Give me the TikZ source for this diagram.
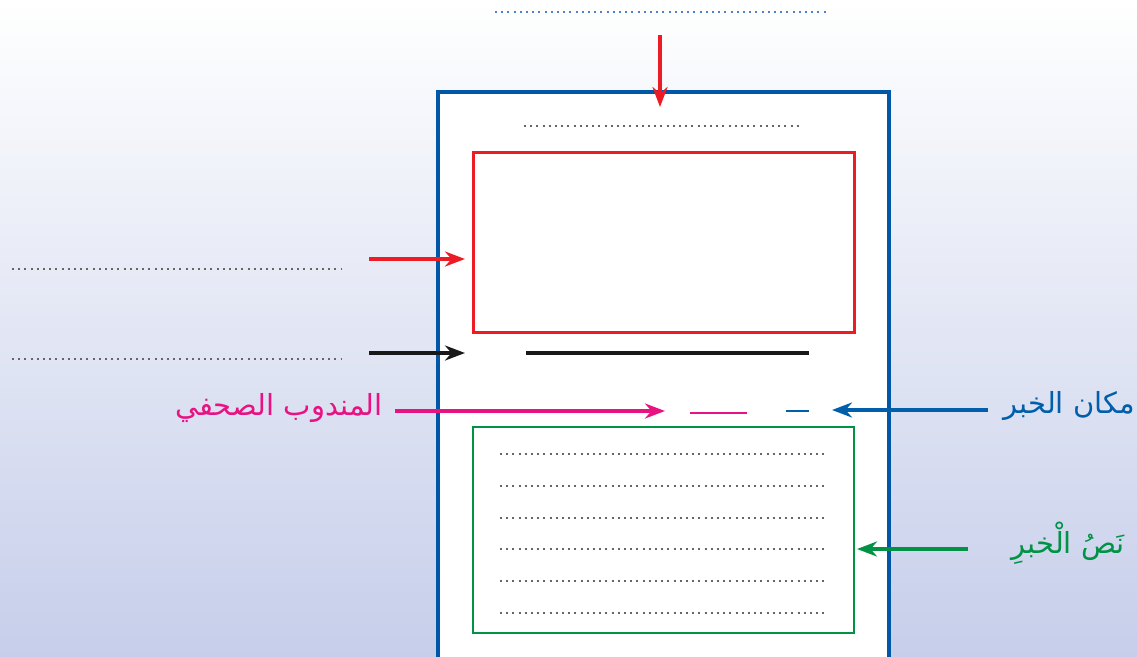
\documentclass[tikz,border=0pt]{standalone}
\usepackage{fontspec}
\newfontfamily\arabicfont[Script=Arabic]{DejaVu Sans}
\TeXXeTstate=1
\usetikzlibrary{calc, positioning}
\usetikzlibrary{arrows.meta}

\definecolor{pageblue}{RGB}{0,87,168}
\definecolor{dotblue}{RGB}{80,130,200}
\definecolor{mainred}{RGB}{237,28,36}
\definecolor{magentaC}{RGB}{232,18,130}
\definecolor{greenC}{RGB}{0,146,69}
\definecolor{placeblue}{RGB}{0,94,170}
\definecolor{bgmid}{RGB}{240,242,250}
\definecolor{bgbot}{RGB}{198,206,234}

\tikzset{
  dotline/.style={black!60, line width=2.2pt, dash pattern=on 2pt off 4.2pt},
  pointer/.style={line width=3.4pt, -{Stealth[length=20pt, width=15pt]}},
  tag/.style={font=\arabicfont\fontsize{29}{34}\selectfont, inner sep=0pt}
}

\begin{document}
\begin{tikzpicture}[x=1pt, y=-1pt]
\useasboundingbox (0,0) rectangle (1137,656);
\shade[top color=white, middle color=bgmid, bottom color=bgbot] (0,0) rectangle (1137,656);

% the page
\fill[white] (438,92) rectangle (889,660);
\draw[pageblue, line width=3.4pt] (438,660) -- (438,92) -- (889,92) -- (889,660);

% title line and picture
\draw[dotline, dotblue] (495,12) -- (827,12);
\draw[dotline] (524,126) -- (800,126);
\draw[mainred, line width=3pt] (473,152) rectangle (854,332);
\draw[black!90, line width=3.4pt] (526,353) -- (809,353);

% left answer lines
\draw[dotline] (12,269) -- (342,269);
\draw[dotline] (12,359) -- (342,359);

% reporter and place
\draw[magentaC, line width=2.4pt] (690,413) -- (747,413);
\draw[placeblue, line width=2.4pt] (786,411) -- (809,411);

% text box
\draw[greenC, line width=2.4pt] (473,427) rectangle (854,633);
\foreach \y in {454,486,518,549,581,613}
  \draw[dotline] (500,\y) -- (824,\y);

% labels
\node[tag, text=magentaC, anchor=east] (reporter) at (383,408) {\beginR المندوب الصحفي\endR};
\node[tag, text=placeblue, anchor=east] (place) at (1135,406) {\beginR مكان الخبر\endR};
\node[tag, text=greenC, anchor=east] (body) at (1125,543) {\beginR نَصُ الْخبرِ\endR};

% arrows
\coordinate (titletip) at (660,107);
\coordinate (titletail) at (660,35);
\coordinate (pictail) at (369,259);
\coordinate (pictip) at (465,259);
\coordinate (captail) at (369,353);
\coordinate (captip) at (465,353);
\coordinate (reptip) at (665,411);
\coordinate (placetip) at (832,410);
\coordinate (bodytip) at (857,549);

\draw[pointer, mainred] (titletail) -- (titletip);
\draw[pointer, mainred] (pictail) -- (pictip);
\draw[pointer, black!90] (captail) -- (captip);
\draw[pointer, magentaC] (reporter.east |- reptip) ++(12,0) -- (reptip);
\draw[pointer, placeblue] (place.west |- placetip) ++(-15,0) -- (placetip);
\draw[pointer, greenC] (body.west |- bodytip) ++(-43,0) -- (bodytip);
\end{tikzpicture}
\end{document}
